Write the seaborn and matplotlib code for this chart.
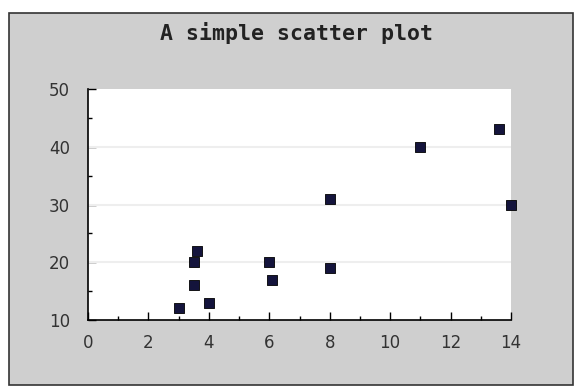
import matplotlib
matplotlib.use('Agg')
import matplotlib.pyplot as plt
import seaborn as sns
import pandas as pd
from matplotlib.patches import Rectangle
from matplotlib.ticker import MultipleLocator

# Dados do gráfico
x_vals = [3, 3.5, 3.5, 3.6, 4, 6, 6.1, 8, 8, 11, 13.6, 14]
y_vals = [12, 16, 20, 22, 13, 20, 17, 31, 19, 40, 43, 30]
titulo = 'A simple scatter plot'

df = pd.DataFrame({'x': x_vals, 'y': y_vals})

sns.set_style('white')
fig = plt.figure(figsize=(5.76, 3.88), dpi=100, facecolor='white')

# Moldura cinza com borda escura (atrás dos eixos)
fig.patches.append(Rectangle((9 / 576, 1 - 385 / 388), 564 / 576, 372 / 388,
                             transform=fig.transFigure, facecolor='#cfcfcf',
                             edgecolor='#333333', linewidth=1.2, zorder=-10))

ax = fig.add_axes([88 / 576, 1 - 320 / 388, 423 / 576, 231 / 388])
ax.set_facecolor('white')

sns.scatterplot(data=df, x='x', y='y', ax=ax, marker='s', s=45,
                color='#14143c', edgecolor='black', linewidth=0.6, zorder=3,
                clip_on=False)

ax.set_xlim(0, 14)
ax.set_ylim(10, 50)
ax.xaxis.set_major_locator(MultipleLocator(2))
ax.xaxis.set_minor_locator(MultipleLocator(1))
ax.yaxis.set_major_locator(MultipleLocator(10))
ax.yaxis.set_minor_locator(MultipleLocator(5))
ax.tick_params(which='major', direction='in', length=6, width=1, color='black',
               labelsize=12, labelcolor='#333333')
ax.tick_params(axis='x', pad=10)
ax.tick_params(axis='y', pad=13)
ax.tick_params(which='minor', direction='in', length=3, width=1, color='black')
ax.tick_params(axis='x', which='both', bottom=True)
ax.tick_params(axis='y', which='both', left=True)

for y in [20, 30, 40]:
    ax.axhline(y, color='#eeeeee', linewidth=1.5, zorder=1)

for s in ['top', 'right']:
    ax.spines[s].set_visible(False)
for s in ['left', 'bottom']:
    ax.spines[s].set_color('black')
    ax.spines[s].set_linewidth(1.2)

ax.set_xlabel('')
ax.set_ylabel('')
fig.text(296 / 576, 1 - 33 / 388, titulo, ha='center', va='center',
         fontsize=15.5, fontweight='bold', family='DejaVu Sans Mono', color='#222222')

fig.savefig('out.png', dpi=100, facecolor='white')
